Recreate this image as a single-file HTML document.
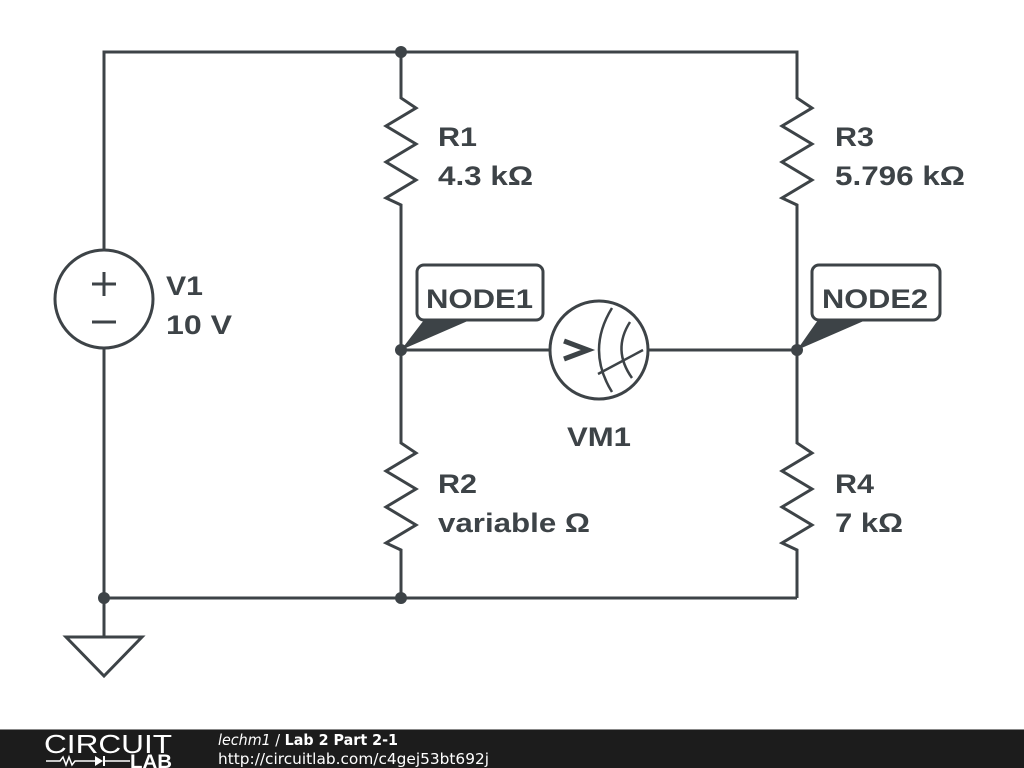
<!DOCTYPE html>
<html><head><meta charset="utf-8"><style>
html,body{margin:0;padding:0;background:#fff;width:1024px;height:768px;overflow:hidden}
</style></head><body>
<svg width="1024" height="768" viewBox="0 0 1024 768" xmlns="http://www.w3.org/2000/svg" style="position:absolute;left:0;top:0">
<g stroke="#3d4347" stroke-width="3" fill="none" stroke-linejoin="miter">
<polyline points="104,250 104,52 797,52 797,95"/>
<line x1="104" y1="349" x2="104" y2="637"/>
<line x1="104" y1="598" x2="797" y2="598"/>
<line x1="401" y1="52" x2="401" y2="95"/>
<polyline points="401,95 401,98 416,108 386,126 416,144 386,162 416,180 386,198 401,205 401,208"/>
<line x1="401" y1="208" x2="401" y2="440"/>
<polyline points="401,440 401,443 416,453 386,471 416,489 386,507 416,525 386,543 401,550 401,555"/>
<line x1="401" y1="555" x2="401" y2="598"/>
<polyline points="797,95 797,98 812,108 782,126 812,144 782,162 812,180 782,198 797,205 797,208"/>
<line x1="797" y1="208" x2="797" y2="440"/>
<polyline points="797,440 797,443 812,453 782,471 812,489 782,507 812,525 782,543 797,550 797,555"/>
<line x1="797" y1="555" x2="797" y2="598"/>
<circle cx="104" cy="299" r="49"/>
<line x1="92" y1="284" x2="116" y2="284"/><line x1="104" y1="272" x2="104" y2="296"/>
<line x1="92" y1="322" x2="116" y2="322"/>
<polygon points="66,637 142,637 104,676"/>
<line x1="401" y1="350" x2="550" y2="350"/>
<line x1="648" y1="350" x2="797" y2="350"/>
<circle cx="599" cy="350" r="49"/>
<path d="M612,308 Q586,350 612,392" stroke-width="2.5"/>
<path d="M630,322 Q612,350 632,378" stroke-width="2.5"/>
<line x1="598" y1="374" x2="643" y2="350" stroke-width="2.5"/>
<polyline points="564,341 588,350 564,359" stroke-width="5"/>
<rect x="417" y="265" width="126" height="55" rx="7"/>
<rect x="812" y="265" width="128" height="55" rx="7"/>
</g>
<g fill="#3d4347">
<circle cx="401" cy="52" r="6"/><circle cx="104" cy="598" r="6"/><circle cx="401" cy="598" r="6"/>
<circle cx="401" cy="350" r="6"/><circle cx="797" cy="350" r="6"/>
<polygon points="401,350 424,320 470,320"/>
<polygon points="797,350 818,320 866,320"/>
</g>
<g font-family="Liberation Sans, sans-serif" font-weight="bold" font-size="27" fill="#3d4347" lengthAdjust="spacingAndGlyphs">
<text x="438" y="146" textLength="39" lengthAdjust="spacingAndGlyphs">R1</text><text x="438" y="185" textLength="95" lengthAdjust="spacingAndGlyphs">4.3 kΩ</text>
<text x="835" y="146" textLength="39" lengthAdjust="spacingAndGlyphs">R3</text><text x="835" y="185" textLength="130" lengthAdjust="spacingAndGlyphs">5.796 kΩ</text>
<text x="166" y="295" textLength="37" lengthAdjust="spacingAndGlyphs">V1</text><text x="166" y="334" textLength="66" lengthAdjust="spacingAndGlyphs">10 V</text>
<text x="438" y="493" textLength="39" lengthAdjust="spacingAndGlyphs">R2</text><text x="438" y="532" textLength="152" lengthAdjust="spacingAndGlyphs">variable Ω</text>
<text x="835" y="493" textLength="39" lengthAdjust="spacingAndGlyphs">R4</text><text x="835" y="532" textLength="68" lengthAdjust="spacingAndGlyphs">7 kΩ</text>
<text x="567" y="446" textLength="64" lengthAdjust="spacingAndGlyphs">VM1</text>
<text x="426" y="308" textLength="107" lengthAdjust="spacingAndGlyphs">NODE1</text>
<text x="822" y="308" textLength="106" lengthAdjust="spacingAndGlyphs">NODE2</text>
</g>
<rect x="0" y="729" width="1024" height="39" fill="#1c1c1c"/>
<line x1="0" y1="729.5" x2="1024" y2="729.5" stroke="#888" stroke-width="1"/>
<text x="44" y="753" font-family="Liberation Sans, sans-serif" font-size="26" fill="#fff" textLength="128" lengthAdjust="spacingAndGlyphs">CIRCUIT</text>
<polyline points="46,761 60,761 63,757 66,765 69,757 72,765 75,761 95,761" stroke="#fff" stroke-width="1.5" fill="none"/>
<polygon points="95,756 95,766 103,761" fill="#fff"/>
<line x1="104" y1="756" x2="104" y2="766" stroke="#fff" stroke-width="2"/>
<line x1="104" y1="761" x2="130" y2="761" stroke="#fff" stroke-width="1.5"/>
<text x="130" y="768" font-family="Liberation Sans, sans-serif" font-size="19" font-weight="bold" fill="#fff" textLength="42" lengthAdjust="spacingAndGlyphs">LAB</text>
<text x="218" y="745" font-family="DejaVu Sans, sans-serif" font-size="15" fill="#fff" textLength="180" lengthAdjust="spacingAndGlyphs"><tspan font-style="italic">lechm1</tspan> / <tspan font-weight="bold">Lab 2 Part 2-1</tspan></text>
<text x="218" y="764" font-family="DejaVu Sans, sans-serif" font-size="15" fill="#fff" textLength="271" lengthAdjust="spacingAndGlyphs">http://circuitlab.com/c4gej53bt692j</text>
</svg>
</body></html>
